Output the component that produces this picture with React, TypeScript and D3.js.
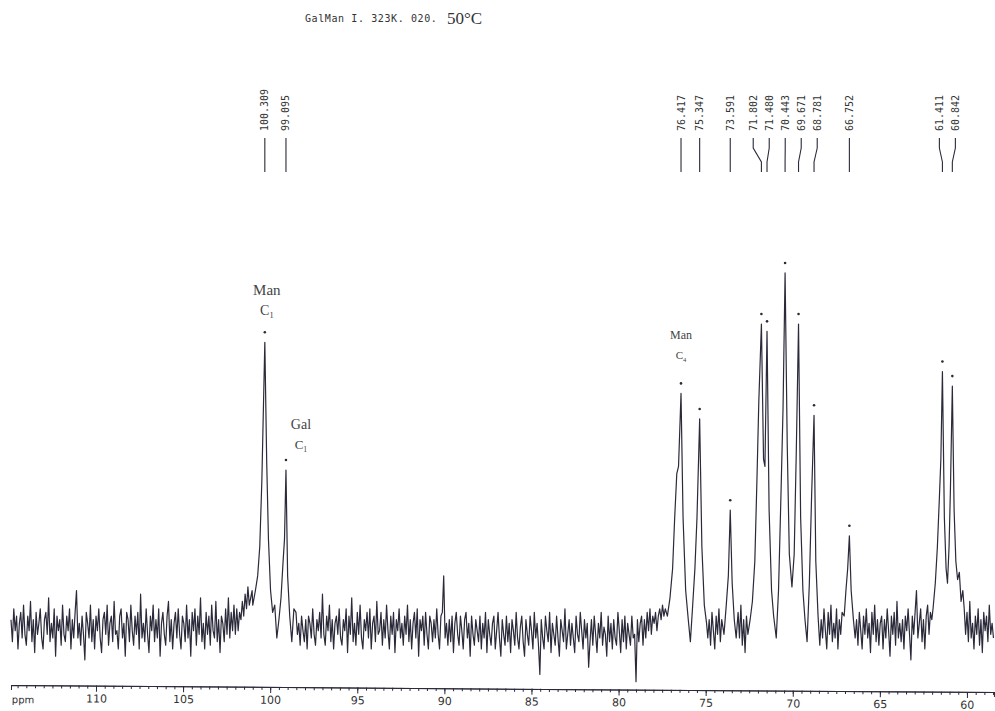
import { useEffect, useRef } from "react";
import * as d3 from "d3";

// 13C spectrum, GalMan I, 323 K, 50 C
const STEP = 0.08;

// baseline noise stretches, read by eye (intensity, tallest peak = 97)
const noiseA = [2,-4,5,-1,3,-6,1,4,-3,6,-2,-5,3,-1,7,-4,2,-7,4,-2,
  1,5,-3,-6,2,4,-2,8,-4,1,-3,5,-8,3,-1,2,-5,6,-2,-4,
  3,-1,5,-6,2,-3,4,10,-3,1,-5,3,-2,-9,4,1,-3,6,-4,2,
  -6,3,-1,5,-3,-7,2,4,-2,6,-5,1,3,-4,7,-2,-1,-6,3,5,
  -3,1,-8,4,2,-4,6,-1,-5,3,-2,4,-6,9,-3,1,-4,5,-2,-7,
  3,-1,6,-4,2,-3,5,-8,1,4,-2,-5,3,7,-4,2,-6,1,4,-3,
  5,-2,-6,3,1,-4,6,-3,2,-8,4,-1,5,-5,3,-2,8,-4,1,-6,
  4,-2,3,-5,6,-1,-3,7,-4,2,-7,3,1,-4,5,-2,8,-3,4,-1,
  6,-2,5,-1,4,2,7,3,9,5,11,6,8,10];
const noiseB = [4,-2,1,-5,3,-1,-4,2,-6,3,1,-3,5,-2,-5,2,-1,4,-3,9,
  -2,-5,3,-1,6,-4,2,-6,1,3,-2,5,-3,-5,2,-1,5,-7,3,-2,
  8,-4,1,-5,4,-2,6,-3,-6,2,-1,4,-3,5,-6,1,3,-4,7,-2,
  -1,4,-5,2,-3,6,-1,-6,3,-2,4,-7,2,-1,5,-3,1,-5,3,-2,
  6,-4,2,-6,1,4,-3,5,-8,2,-1,3,-5,4,-2,-6,3,1,-4,2,
  -3,5,-2,-6,3,4,14,-3,1,-5,2,-4,3,-7,1,4,-2,-5,3,-1,
  -6,2,4,-3,1,-8,3,-2,-5,2,-1,-4,3,-6,1,-3,4,-7,2,-2,
  -5,1,3,-6,-1,4,-3,-8,2,-2,-5,3,-4,1,-7,2,-1,-5,4,-3,
  -6,0,3,-4,-8,2,-2,-5,3,-1,-6,4,-3,1,-5,-13,2,-3,-6,3,
  -1,-4,4,-7,1,-2,-5,3,-3,-8,2,-1,-4,5,-6,-2,2,-5,1,-3,
  -7,3,-2,-4,4,-1,-6,2,-3,1,-11,-4,2,-5,3,-2,-7,1,-3,4,
  -5,0,-2,-8,3,-4,1,-6,2,-3,-5,4,-1,-7,2,-4,3,-6,1,-2,
  -5,3,-3,-2,-15,2,-4,1,3,-5,2,-3,4,-1,5,-2,3,1,4,-1,
  3,5,2,6,3,5];
const noiseC = [-3,2,-5,4,-1,-6,3,-2,5,-4,2];
const noiseD = [4,-3,6,-5,2,-7,3,-2];
const noiseE = [-5,2,-3,5,-1,-6,4,-2,6,-4,1,-3,5,-6,2,-2,4];
const noiseF = [-3,2,-5,4,-1,-6,3,-2,5,-3,1,-7,4,-2,6,-4,2,-5,1,3,
  -6,2,-3,5,-1,-8,3,-2,4,-5,7,-3,1,-4,2,-6,3,-1,5,-2,
  -9,3,-2,4,10,-3,1,5,-4,2,-6,3,6,-2,4,2];
const noiseG = [5,-2,4,-4,7,-3,1,-6,3,-2,5,-5,2,-7,4,-1,3,-4,6,-2,1,-3];

const noiseSegments = [
  { from: 114.88, values: noiseA },
  { from: 98.52, values: noiseB },
  { from: 74.88, values: noiseC },
  { from: 73.14, values: noiseD },
  { from: 68.45, values: noiseE },
  { from: 66.42, values: noiseF },
  { from: 60.16, values: noiseG },
];

// peak profiles [ppm, intensity]
const manGalC1: [number, number][] = [[101.0,6],[100.85,10],[100.72,14],[100.6,22],[100.48,40],[100.309,78],[100.2,45],[100.1,24],[99.98,10],[99.86,4],[99.74,6],[99.62,-3],[99.5,2],[99.38,8],[99.26,18],[99.18,24],[99.095,43],[99.0,14],[98.88,3],[98.76,-4],[98.64,5]];
const manC4: [number, number][] = [[77.2,3],[77.05,8],[76.9,16],[76.78,30],[76.66,42],[76.56,44],[76.417,64],[76.3,30],[76.15,10],[76.0,2],[75.88,-4],[75.76,5],[75.62,16],[75.5,30],[75.347,57],[75.22,22],[75.08,6],[74.95,1]];
const peak73: [number, number][] = [[73.95,-2],[73.82,6],[73.7,14],[73.591,32],[73.48,12],[73.36,2],[73.25,-3]];
const cluster70: [number, number][] = [[72.45,2],[72.32,7],[72.18,18],[72.05,42],[71.95,62],[71.802,83],[71.68,46],[71.6,44],[71.48,81],[71.36,32],[71.22,10],[71.1,3],[70.95,-3],[70.82,10],[70.68,36],[70.56,60],[70.443,97],[70.32,50],[70.2,20],[70.05,11],[69.92,20],[69.8,48],[69.671,83],[69.55,30],[69.42,10],[69.3,2],[69.18,-4],[69.05,12],[68.92,36],[68.781,58],[68.68,18],[68.55,3]];
const peak66: [number, number][] = [[67.05,3],[66.95,10],[66.85,16],[66.752,25],[66.65,10],[66.52,2]];
const peak61: [number, number][] = [[61.95,5],[61.82,12],[61.7,22],[61.58,36],[61.5,46],[61.411,70],[61.3,30],[61.2,16],[61.12,12],[61.03,22],[60.95,38],[60.842,66],[60.74,32],[60.64,18],[60.54,13],[60.44,15],[60.34,7],[60.24,10]];
const peakGroups = [manGalC1, manC4, peak73, cluster70, peak66, peak61];

const pickedPeaks = [100.309, 99.095, 76.417, 75.347, 73.591, 71.802, 71.48, 70.443, 69.671, 68.781, 66.752, 61.411, 60.842];
const majorTicks = [110, 105, 100, 95, 90, 85, 80, 75, 70, 65, 60];

const annotations = [
  { ppm: 100.309, name: "Man", sub: "1", y: 295, size: 15, dx: 2 },
  { ppm: 99.095, name: "Gal", sub: "1", y: 429, size: 14, dx: 15 },
  { ppm: 76.417, name: "Man", sub: "4", y: 339, size: 12, dx: 0 },
];

const INK = "#2a2a3a";

function spread(xs: number[], gap: number) {
  const blocks: { xs: number[]; start: number }[] = [];
  xs.forEach((x) => {
    blocks.push({ xs: [x], start: x });
    while (blocks.length > 1) {
      const b = blocks[blocks.length - 1];
      const a = blocks[blocks.length - 2];
      if (a.start + a.xs.length * gap <= b.start) break;
      const all = a.xs.concat(b.xs);
      blocks.splice(blocks.length - 2, 2, { xs: all, start: d3.mean(all)! - ((all.length - 1) * gap) / 2 });
    }
  });
  return blocks.flatMap((b) => b.xs.map((_, i) => b.start + i * gap));
}

export default function App() {
  const ref = useRef<SVGSVGElement>(null);

  useEffect(() => {
    const svg = d3.select(ref.current);
    svg.selectAll("*").remove();

    const x = d3.scaleLinear().domain([114.88, 58.45]).range([11, 994]);
    const y = d3.scaleLinear().domain([0, 100]).range([627, 262]);

    const ranges = peakGroups.map((g) => d3.extent(g, (p) => p[0]) as [number, number]);
    const noisePts = noiseSegments
      .flatMap((s) => s.values.map((v, i) => [s.from - i * STEP, v] as [number, number]))
      .filter((p) => p[0] >= 58.45 && !ranges.some((r) => p[0] >= r[0] - 0.02 && p[0] <= r[1] + 0.02));
    const pts = noisePts.concat(peakGroups.flat()).sort((a, b) => b[0] - a[0]);

    const line = d3.line<[number, number]>().x((d) => x(d[0])).y((d) => y(d[1]));
    svg.append("path").attr("d", line(pts)!).attr("fill", "none")
      .attr("stroke", INK).attr("stroke-width", 1.2).attr("stroke-linejoin", "round");

    const all = peakGroups.flat();
    const top = (ppm: number) => all.find((p) => p[0] === ppm)![1];

    // peak pick dots
    svg.append("g").selectAll("circle").data(pickedPeaks).enter().append("circle")
      .attr("cx", (d) => x(d)).attr("cy", (d) => y(top(d)) - 10).attr("r", 1.3).attr("fill", INK);

    // peak labels with leader lines
    const labelX = spread(pickedPeaks.map((d) => x(d)), 16);
    const lab = svg.append("g");
    pickedPeaks.forEach((ppm, i) => {
      const lx = labelX[i], px = x(ppm);
      lab.append("text")
        .attr("transform", `translate(${lx + 3.5},131) rotate(-90)`)
        .attr("font-family", "DejaVu Sans Mono").attr("font-size", 10).attr("fill", "#333")
        .text(ppm.toFixed(3));
      lab.append("path").attr("d", `M${lx},138L${lx},148L${px},162L${px},172`)
        .attr("fill", "none").attr("stroke", INK).attr("stroke-width", 1.1);
    });

    // annotations
    annotations.forEach((a) => {
      const cx = x(a.ppm) + a.dx;
      svg.append("text").attr("x", cx).attr("y", a.y).attr("text-anchor", "middle")
        .attr("font-family", "Liberation Serif").attr("font-size", a.size).attr("fill", "#444")
        .text(a.name);
      const c = svg.append("text").attr("x", cx).attr("y", a.y + 20).attr("text-anchor", "middle")
        .attr("font-family", "Liberation Serif").attr("font-size", a.size - 1).attr("fill", "#444");
      c.append("tspan").text("C");
      c.append("tspan").attr("font-size", (a.size - 1) * 0.6).attr("dy", 3).text(a.sub);
    });

    // title
    svg.append("text").attr("x", 305).attr("y", 22).attr("font-family", "DejaVu Sans Mono")
      .attr("font-size", 10).attr("letter-spacing", 0.6).attr("fill", "#333").text("GalMan I. 323K. 020.");
    svg.append("text").attr("x", 447).attr("y", 24).attr("font-family", "Liberation Serif")
      .attr("font-size", 17).attr("fill", "#333").text("50°C");

    // ppm axis (scan is a little tilted)
    const ax = svg.append("g").attr("transform", "translate(0,685) rotate(0.41)");
    const minor = d3.range(114.5, 58.4, -0.5);
    ax.append("g").call(d3.axisBottom(x).tickValues(minor).tickSize(3).tickSizeOuter(5).tickFormat(() => ""));
    ax.append("g").call(d3.axisBottom(x).tickValues(majorTicks).tickSize(6).tickSizeOuter(0).tickFormat(d3.format("d")));
    ax.selectAll("path,line").attr("stroke", INK);
    ax.selectAll("text").attr("font-family", "DejaVu Sans").attr("font-size", 11).attr("fill", "#333");
    ax.append("text").attr("x", 12).attr("y", 18).attr("font-family", "DejaVu Sans")
      .attr("font-size", 10).attr("fill", "#333").text("ppm");
  }, []);

  return (
    <svg ref={ref} width={995} height={711}
      style={{ position: "absolute", left: 0, top: 0, background: "#fff" }} />
  );
}
